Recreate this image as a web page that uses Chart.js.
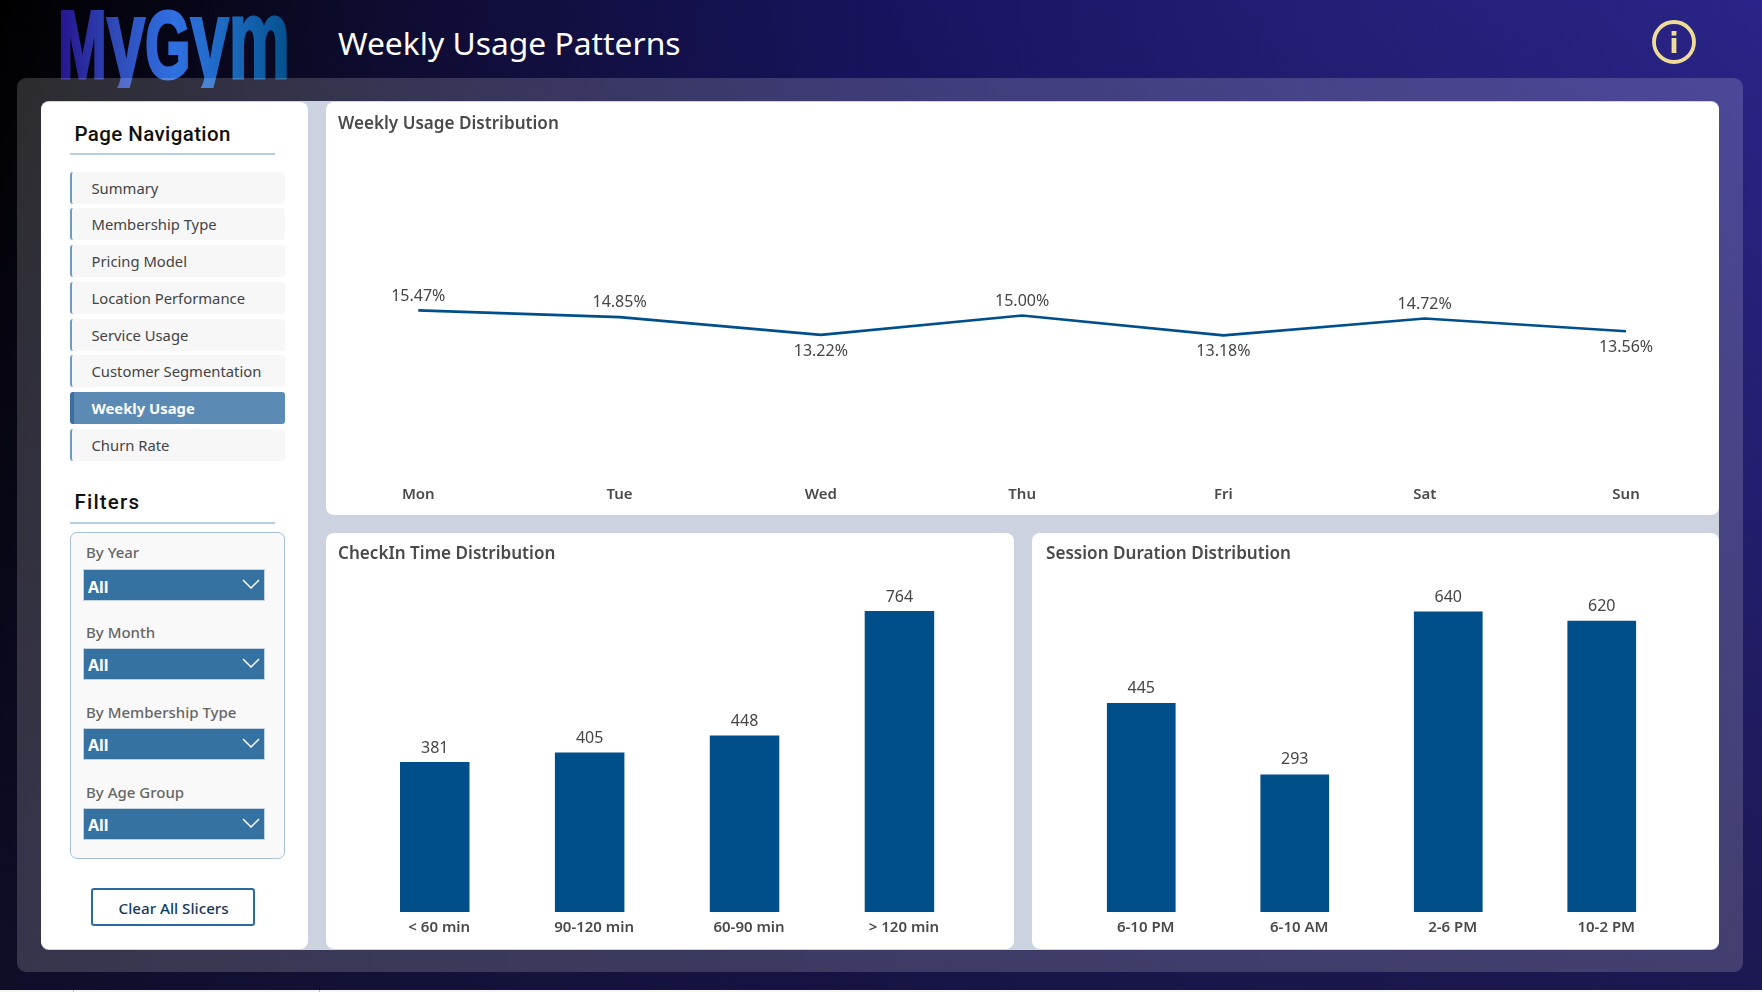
<!DOCTYPE html>
<html>
<head>
<meta charset="utf-8">
<title>Weekly Usage Patterns</title>
<script src="https://cdn.jsdelivr.net/npm/chart.js@4/dist/chart.umd.min.js"></script>
<style>
html,body{margin:0;padding:0;width:1762px;height:992px;overflow:hidden;background:#f6f6f6}
#bg{position:absolute;left:0;top:0;width:1762px;height:990px;background:linear-gradient(180deg,rgba(22,19,58,0) 0%,rgba(22,19,58,.7) 100%),linear-gradient(90deg,#000 0%,#0e0c30 22%,#17145f 50%,#221f76 75%,#2a2488 100%)}
#frame{position:absolute;left:17px;top:78px;width:1726px;height:894px;border-radius:9px;background:rgba(255,255,255,.17)}
#gap{position:absolute;left:41px;top:101px;width:1677.5px;height:849px;border-radius:8px;background:#ccd2e0}
.panel{position:absolute;background:#fff;border-radius:8px}
canvas{position:absolute}
.t{position:absolute;white-space:nowrap;transform:translateY(-50%);font-family:"Noto Sans",sans-serif}
.nav{position:absolute;left:70px;width:215px;height:32px;box-sizing:border-box;background:#f7f7f7;border-left:2px solid #6d9cc0;border-radius:3px}
.nav.on{background:#5b8bb5;border-left:4px solid #3a6f9f}
.rule{position:absolute;left:70px;width:205px;height:2px;background:#b7cee1}
#fbox{position:absolute;left:70px;top:532px;width:215px;height:327px;box-sizing:border-box;border:1.5px solid #a5c2d9;border-radius:7px;background:#f9f9f9}
.dd{position:absolute;left:83px;width:182px;height:32px;box-sizing:border-box;border:1.5px solid #c3d3e1;background:#3572a2}
#btn{position:absolute;left:91px;top:888px;width:164px;height:38px;box-sizing:border-box;border:2px solid #2a6a9e;border-radius:3px;background:#fff}
.mark{position:absolute;top:990px;width:1px;height:2px;background:#bdbdbd}
svg{position:absolute;overflow:visible}
</style>
</head>
<body>
<div id="bg"></div>
<div class="mark" style="left:73px"></div>
<div class="mark" style="left:319px"></div>
<svg id="logo" style="left:0;top:0" width="400" height="100">
  <defs>
    <linearGradient id="lg" x1="58" x2="290" y1="0" y2="0" gradientUnits="userSpaceOnUse">
      <stop offset="0" stop-color="#26128c"/><stop offset=".25" stop-color="#2f4bb8"/><stop offset=".5" stop-color="#2f70e2"/><stop offset=".75" stop-color="#1a68bc"/><stop offset="1" stop-color="#04508c"/>
    </linearGradient>
    <clipPath id="lc"><rect x="0" y="0" width="400" height="88"/></clipPath>
  </defs>
  <g clip-path="url(#lc)">
  <text x="58" y="78" textLength="232" lengthAdjust="spacingAndGlyphs" font-family="Liberation Sans Narrow, Liberation Sans" font-weight="700" font-size="96" fill="url(#lg)" stroke="url(#lg)" stroke-width="3.2">M<tspan font-size="113">y</tspan>G<tspan font-size="113">ym</tspan></text>
  </g>
</svg>
<div id="frame"></div>
<div id="gap"></div>
<div class="panel" style="left:41px;top:102px;width:266.5px;height:847px"></div>
<div class="panel" style="left:325.5px;top:102px;width:1393px;height:413px"></div>
<div class="panel" style="left:325.5px;top:533px;width:688px;height:416px"></div>
<div class="panel" style="left:1031.5px;top:533px;width:687px;height:416px"></div>
<canvas id="lineChart"></canvas>
<canvas id="checkInChart"></canvas>
<canvas id="sessionChart"></canvas>
<div id="fbox"></div>
<div id="btn"></div>
<svg style="left:1648.5px;top:17px" width="50" height="50">
  <circle cx="25" cy="25" r="20" fill="none" stroke="#efdd97" stroke-width="3.8"/>
  <rect x="22.6" y="21" width="4.8" height="15" fill="#efdd97"/><rect x="22.6" y="14" width="4.8" height="4.6" fill="#efdd97"/>
</svg>
<div id="ui"></div>
<script>
const weekDays = ["Mon","Tue","Wed","Thu","Fri","Sat","Sun"];
const weekShare = [15.47,14.85,13.22,15.00,13.18,14.72,13.56];
const weekLabelAbove = [true,true,false,true,false,true,false];
const checkInLabels = ["< 60 min","90-120 min","60-90 min","> 120 min"];
const checkInValues = [381,405,448,764];
const sessionLabels = ["6-10 PM","6-10 AM","2-6 PM","10-2 PM"];
const sessionValues = [445,293,640,620];
const navItems = ["Summary","Membership Type","Pricing Model","Location Performance","Service Usage","Customer Segmentation","Weekly Usage","Churn Rate"];
const activeNav = "Weekly Usage";
const filterNames = ["By Year","By Month","By Membership Type","By Age Group"];
const filterValue = "All";

const ui = document.getElementById('ui');
function txt(s,x,cy,css){const d=document.createElement('div');d.className='t';d.textContent=s;d.style.cssText='left:'+x+'px;top:'+cy+'px;'+css;ui.appendChild(d);return d;}
function box(cls,css){const d=document.createElement('div');d.className=cls;d.style.cssText=css;ui.appendChild(d);return d;}

txt("Weekly Usage Patterns",338,41.5,'font-size:31.8px;color:#fff;');
txt("Page Navigation",74.5,134,'font-family:Roboto;font-weight:500;font-size:20.5px;letter-spacing:.4px;color:#111;');
box('rule','top:153px');
navItems.forEach((n,i)=>{
  const top=171.7+i*36.7, on=n===activeNav;
  box('nav'+(on?' on':''),'top:'+top+'px');
  txt(n,91.5,top+16,on?'font-size:14.8px;font-weight:700;color:#fff;':'font-size:14.8px;color:#444;');
});
txt("Filters",74.5,502,'font-family:Roboto;font-weight:500;font-size:20.5px;letter-spacing:1.2px;color:#111;');
box('rule','top:522px');
const labelY=[552,631.7,711.5,791.7], ddY=[569.3,647.7,727.7,807.7];
filterNames.forEach((f,i)=>{
  txt(f,86,labelY[i],'font-size:15px;font-weight:500;color:#666;');
  box('dd','top:'+ddY[i]+'px');
  txt(filterValue,88,ddY[i]+17.5,'font-size:16px;font-weight:700;color:#fff;');
  const s=document.createElementNS('http://www.w3.org/2000/svg','svg');
  s.setAttribute('width','20');s.setAttribute('height','12');
  s.style.cssText='left:241px;top:'+(ddY[i]+9)+'px';
  s.innerHTML='<path d="M2 2 L10 10 L18 2" fill="none" stroke="#fff" stroke-width="1.5"/>';
  ui.appendChild(s);
});
txt("Clear All Slicers",118.5,908,'font-size:15.2px;font-weight:500;color:#123a5e;');
const titleCss='font-size:17.1px;font-weight:600;color:#4a4a4a;';
txt("Weekly Usage Distribution",338,122,titleCss);
txt("CheckIn Time Distribution",338,552,titleCss);
txt("Session Duration Distribution",1046,552,titleCss);

Chart.defaults.font.family='"Noto Sans",sans-serif';
Chart.defaults.devicePixelRatio=1;

const valueLabels={
  id:'valueLabels',
  afterDatasetsDraw(chart,args,opts){
    const c=chart.ctx,ds=chart.data.datasets[0];
    c.save();
    c.font='16px "Noto Sans",sans-serif';c.fillStyle='#454545';c.textAlign='center';c.textBaseline='middle';
    chart.getDatasetMeta(0).data.forEach((el,i)=>{
      const above=opts.above?opts.above[i]:true;
      c.fillText(opts.format(ds.data[i]),el.x,el.y+(above?opts.up:16.5));
    });
    c.restore();
  }
};
const BAR='#004f8b';
function make(id,x,y,w,h,type,labels,values,pad,yMax,axisH,labelOffset,extra,labelOpts,tickPad){
  const cv=document.getElementById(id);cv.width=w;cv.height=h;cv.style.cssText='left:'+x+'px;top:'+y+'px;width:'+w+'px;height:'+h+'px';
  return new Chart(cv,{
    type,
    data:{labels,datasets:[Object.assign({data:values},extra)]},
    options:{
      responsive:false,animation:false,
      layout:{padding:pad,autoPadding:false},
      plugins:{legend:{display:false},tooltip:{enabled:false},valueLabels:labelOpts},
      scales:{
        x:{offset:type==='bar',grid:{display:false,drawTicks:false},border:{display:false},
           afterFit(s){s.height=axisH;},
           ticks:{maxRotation:0,autoSkip:false,padding:tickPad,labelOffset,color:'#4a4a4a',font:{size:15,weight:'600'}}},
        y:{display:false,min:0,max:yMax}
      }
    },
    plugins:[valueLabels]
  });
}
make('lineChart',325,102,1393,413,'line',weekDays,weekShare,{left:93.3,right:92,top:50,bottom:0},30,36,0,
  {borderColor:BAR,borderWidth:2.6,pointRadius:0,tension:0,fill:false},
  {above:weekLabelAbove,up:-14.2,format:v=>v.toFixed(2)+'%'},7);
make('checkInChart',325,533,688,416,'bar',checkInLabels,checkInValues,{left:32.3,right:36.1,top:63.8,bottom:0},800,37,4.5,
  {backgroundColor:BAR,barPercentage:.4487,categoryPercentage:1},{up:-13.7,format:v=>String(v)},6.5);
make('sessionChart',1031,533,687,416,'bar',sessionLabels,sessionValues,{left:33.5,right:39.5,top:50.3,bottom:0},700,37,4.5,
  {backgroundColor:BAR,barPercentage:.4476,categoryPercentage:1},{up:-14.5,format:v=>String(v)},6.5);
</script>
</body>
</html>
